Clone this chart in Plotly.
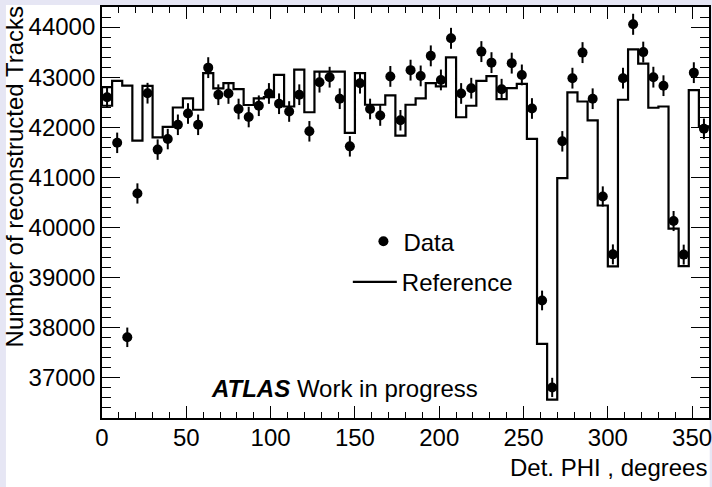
import numpy as np
import plotly.graph_objects as go

# ---------------- data ----------------
phi_edges_deg = list(range(0, 361, 6))          # 60 bins of 6 degrees

data_tracks = [
    42600, 41690, 37810, 40680, 42680, 41555, 41765, 42050, 42275, 42050,
    43190, 42650, 42675, 42365, 42205, 42430, 42675, 42470, 42315, 42650,
    41920, 42900, 43000, 42570, 41620, 42880, 42365, 42235, 43015, 42140,
    43140, 43025, 43425, 42945, 43775, 42675, 42780, 43510, 43290, 42760,
    43280, 43045, 42375, 38545, 36810, 41720, 42980, 43490, 42570, 40620,
    39465, 42980, 44055, 43500, 43000, 42830, 40130, 39460, 43090, 41970,
]

reference_tracks = [
    42430, 42925, 42830, 41735, 42825, 41800, 42010, 42395, 42575, 42350,
    43080, 42775, 42880, 42760, 42445, 42575, 42600, 43045, 42415, 43150,
    42300, 43110, 43110, 43110, 41890, 43080, 42450, 42450, 42635, 41835,
    42450, 42575, 42880, 42815, 43395, 42200, 42430, 42925, 43020, 42560,
    42780, 42865, 41770, 37680, 36565, 40985, 42695, 42515, 42140, 40440,
    39225, 42550, 43555, 43270, 42390, 42415, 39980, 39230, 42740, 42020,
]
reference_bin0_upper = 42800   # second outline level drawn on the first bin

x_tick_vals = [0, 50, 100, 150, 200, 250, 300, 350]
x_tick_text = ["0", "50", "100", "150", "200", "250", "300", "350"]
y_tick_vals = [37000, 38000, 39000, 40000, 41000, 42000, 43000, 44000]
y_tick_text = ["37000", "38000", "39000", "40000", "41000", "42000", "43000", "44000"]

# ---------------- geometry ----------------
W, H = 712, 487
L, R, T, B = 102, 3.3, 7, 69
PW = W - L - R
PH = H - T - B


def xp(px):
    return (px - L) / PW


def yp(py):
    return (H - B - py) / PH


FONT = "Liberation Sans, Arial, Helvetica, sans-serif"
FS = 24

centers = [(a + b) / 2 for a, b in zip(phi_edges_deg[:-1], phi_edges_deg[1:])]
errors = list(np.sqrt(np.array(data_tracks, dtype=float)))

# reference outline path (step histogram)
rx = [phi_edges_deg[1], phi_edges_deg[0], phi_edges_deg[0]]
ry = [reference_bin0_upper, reference_bin0_upper, reference_tracks[0]]
for i, v in enumerate(reference_tracks):
    rx += [phi_edges_deg[i], phi_edges_deg[i + 1]]
    ry += [v, v]

fig = go.Figure()
fig.add_trace(go.Scatter(
    x=rx, y=ry, mode="lines", name="Reference",
    line=dict(color="black", width=2.2),
    legend="legend2", hoverinfo="skip",
))
fig.add_trace(go.Scatter(
    x=centers, y=data_tracks, mode="markers", name="Data",
    marker=dict(symbol="circle", size=10, color="black"),
    error_y=dict(type="data", array=errors, thickness=2, width=0, color="black"),
    legend="legend",
))

x_minor = [v for v in range(0, 361, 10)]
y_minor = [v for v in range(36200, 44401, 200)]

fig.update_layout(
    width=W, height=H,
    margin=dict(l=L, r=R, t=T, b=B, pad=0, autoexpand=False),
    paper_bgcolor="white", plot_bgcolor="white",
    font=dict(family=FONT, size=FS, color="black"),
    showlegend=True,
    legend=dict(
        x=xp(363.3), y=yp(241.7), xanchor="left", yanchor="middle",
        bgcolor="rgba(0,0,0,0)", borderwidth=0,
        font=dict(family=FONT, size=FS, color="black"),
    ),
    legend2=dict(
        x=xp(347.7), y=yp(282.3), xanchor="left", yanchor="middle",
        bgcolor="rgba(0,0,0,0)", borderwidth=0, itemwidth=44,
        font=dict(family=FONT, size=FS, color="black"),
    ),
    xaxis=dict(
        range=[0, 360], tickmode="array", tickvals=x_tick_vals, ticktext=x_tick_text,
        ticks="inside", ticklen=12.5, tickwidth=1.2, tickcolor="black",
        minor=dict(tickmode="array", tickvals=x_minor, ticks="inside",
                   ticklen=6, tickwidth=1.2, tickcolor="black"),
        showline=True, linewidth=1.8, linecolor="black", mirror="ticks",
        showgrid=False, zeroline=False, ticklabeloverflow="allow",
        ticklabelstandoff=-3,
        tickfont=dict(family=FONT, size=FS, color="black"),
    ),
    yaxis=dict(
        range=[36200, 44400], tickmode="array", tickvals=y_tick_vals, ticktext=y_tick_text,
        ticks="inside", ticklen=18.5, tickwidth=1.2, tickcolor="black",
        minor=dict(tickmode="array", tickvals=y_minor, ticks="inside",
                   ticklen=9.5, tickwidth=1.2, tickcolor="black"),
        showline=True, linewidth=1.8, linecolor="black", mirror="ticks",
        showgrid=False, zeroline=False, ticklabeloverflow="allow",
        tickfont=dict(family=FONT, size=FS, color="black"),
    ),
)

# window-frame strips (lavender) around the canvas
lav = "#e6e6f4"
for (x0, x1, y0, y1) in [
    (0, 6, 0, H),        # left
    (0, W, 0, 5),        # top
    (709.4, W, 0, H),    # right
]:
    fig.add_shape(type="rect", xref="paper", yref="paper",
                  x0=xp(x0), x1=xp(x1), y0=yp(y1), y1=yp(y0),
                  line=dict(width=0), fillcolor=lav, layer="below")

fig.add_annotation(
    text="Det. PHI , degrees", xref="paper", yref="paper",
    x=xp(708.7), y=yp(467), xanchor="right", yanchor="middle",
    showarrow=False, font=dict(family=FONT, size=FS, color="black"),
)
fig.add_annotation(
    text="Number of reconstructed Tracks", xref="paper", yref="paper",
    x=xp(15), y=yp(176.5), xanchor="center", yanchor="middle", textangle=-90,
    showarrow=False, font=dict(family=FONT, size=FS, color="black"),
)
fig.add_annotation(
    text="<b><i>ATLAS</i></b> Work in progress", xref="paper", yref="paper",
    x=xp(209), y=yp(388), xanchor="left", yanchor="middle",
    showarrow=False, font=dict(family=FONT, size=FS, color="black"),
)

fig.write_html("out.html")
